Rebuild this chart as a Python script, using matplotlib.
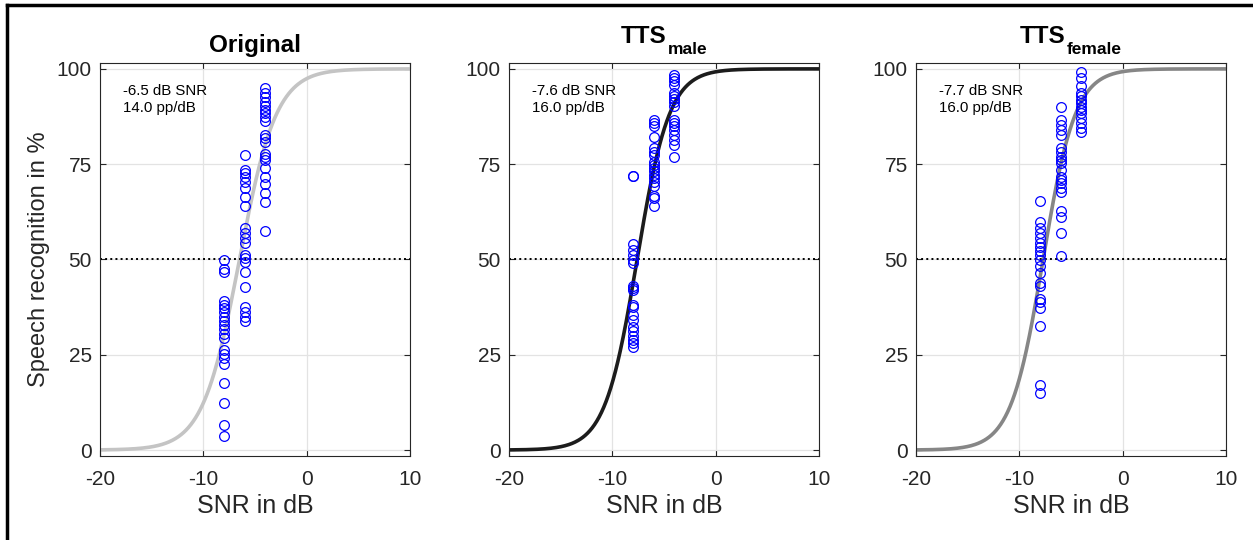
import numpy as np
import matplotlib
matplotlib.use("Agg")
import matplotlib.pyplot as plt
from matplotlib.lines import Line2D

plt.rcParams['font.family'] = ['Liberation Sans', 'DejaVu Sans']
plt.rcParams['axes.unicode_minus'] = False

# panel titles (main part, subscript) and fit parameters
title_main = ["Original", "TTS", "TTS"]
title_sub = ["", "male", "female"]
srt = [-6.5, -7.6, -7.7]          # dB SNR
slope = [14.0, 16.0, 16.0]        # pp/dB
curve_colors = ["#c4c4c4", "#1c1c1c", "#868686"]

# measured points per panel: SNR levels and recognition scores
orig_snr_m8 = [49.9, 47.4, 46.7, 39.2, 38.1, 37.2, 36.1, 35.0, 33.9, 32.8, 31.7,
               30.4, 29.3, 26.2, 25.2, 24.1, 22.7, 17.5, 12.4, 6.6, 3.8]
orig_snr_m6 = [77.3, 73.5, 72.6, 71.7, 70.4, 68.7, 66.5, 64.0, 58.2, 56.9, 55.6,
               54.2, 51.2, 50.3, 49.4, 46.6, 42.9, 37.6, 36.3, 35.0, 33.9]
orig_snr_m4 = [94.9, 93.6, 92.6, 91.4, 90.3, 89.2, 88.4, 87.3, 86.4, 82.7, 81.8,
               80.9, 77.7, 77.0, 76.1, 73.9, 71.7, 69.8, 67.5, 65.2, 57.6]

male_snr_m8 = [72.0, 71.8, 54.1, 52.5, 51.2, 49.9, 49.2, 43.0, 42.4, 42.0, 38.1,
               37.4, 35.4, 34.1, 32.4, 31.3, 29.9, 28.9, 28.0, 27.1]
male_snr_m6 = [86.6, 85.7, 84.9, 82.2, 79.2, 78.3, 77.4, 75.7, 74.8, 73.9, 73.1,
               72.2, 71.3, 70.4, 69.3, 66.7, 66.1, 63.9]
male_snr_m4 = [98.4, 97.5, 96.7, 95.8, 93.8, 92.9, 92.0, 91.2, 90.3, 86.6, 85.7,
               84.9, 84.0, 82.7, 81.4, 80.1, 76.8]

female_snr_m8 = [65.4, 59.8, 58.2, 56.9, 55.6, 54.4, 53.4, 52.3, 51.2, 49.9, 48.4,
                 46.4, 43.7, 43.0, 39.5, 38.9, 37.2, 32.6, 17.1, 15.0]
female_snr_m6 = [90.1, 86.6, 85.3, 84.0, 82.7, 79.2, 78.3, 77.0, 76.1, 75.2, 73.5,
                 71.7, 70.9, 70.0, 68.7, 67.8, 62.6, 61.2, 56.9, 50.9]
female_snr_m4 = [99.3, 97.5, 95.4, 93.6, 92.8, 91.9, 91.0, 90.1, 89.2, 88.4, 87.1,
                 85.7, 84.4, 83.5]

snr_levels = [-8, -6, -4]
panels = [
    [orig_snr_m8, orig_snr_m6, orig_snr_m4],
    [male_snr_m8, male_snr_m6, male_snr_m4],
    [female_snr_m8, female_snr_m6, female_snr_m4],
]

fig = plt.figure(figsize=(12.53, 5.4), dpi=100)

lefts = [100 / 1253, 509 / 1253, 916 / 1253]
x = np.linspace(-20, 10, 400)
title_parts = []

for i in range(3):
    ax = fig.add_axes([lefts[i], 0.156, 0.2474, 0.727])
    ax.grid(True, color="#e3e3e3", lw=0.9)
    ax.set_axisbelow(True)

    k = 4 * slope[i] / 100
    ax.plot(x, 100 / (1 + np.exp(-k * (x - srt[i]))), color=curve_colors[i], lw=2.6, zorder=2)
    ax.axhline(50, color="black", ls=":", lw=1.4, zorder=2)

    for snr, vals in zip(snr_levels, panels[i]):
        ax.plot([snr] * len(vals), vals, "o", mfc="none", mec="#0000ff",
                mew=0.9, ms=7, zorder=3)

    ax.text(-17.8, 96, f"{srt[i]:.1f} dB SNR\n{slope[i]:.1f} pp/dB",
            fontsize=10.8, va="top", ha="left", linespacing=1.25)

    ax.set_xlim(-20, 10)
    ax.set_ylim(-1.5, 101.5)
    ax.set_xticks([-20, -10, 0, 10])
    ax.set_yticks([0, 25, 50, 75, 100])
    ax.tick_params(direction="in", top=True, right=True, length=4,
                   labelsize=15, colors="#262626", width=0.8)
    ax.tick_params(axis="x", pad=10)
    ax.tick_params(axis="y", pad=6)
    for s in ax.spines.values():
        s.set_color("#262626")
        s.set_linewidth(0.8)
    ax.set_xlabel("SNR in dB", fontsize=18, color="#262626", labelpad=4)
    if i == 0:
        ax.set_ylabel("Speech recognition in %", fontsize=17, color="#262626", labelpad=5)

    if title_sub[i]:
        t1 = ax.text(0.5, 1.051, title_main[i], transform=ax.transAxes,
                     fontsize=17.5, fontweight="bold", ha="left", va="baseline")
        t2 = ax.text(0.5, 1.023, title_sub[i], transform=ax.transAxes,
                     fontsize=12.5, fontweight="bold", ha="left", va="baseline")
        title_parts.append((ax, t1, t2))
    else:
        ax.set_title(title_main[i], fontsize=17.5, fontweight="bold", pad=8.4)

# center the TTS titles (main part plus subscript) over their axes
fig.canvas.draw()
r = fig.canvas.get_renderer()
for ax, t1, t2 in title_parts:
    bb = ax.get_window_extent(r)
    w1 = t1.get_window_extent(r).width
    w2 = t2.get_window_extent(r).width
    gap = 1.5
    start = bb.x0 + bb.width / 2 - (w1 + gap + w2) / 2
    t1.set_x((start - bb.x0) / bb.width)
    t2.set_x((start + w1 + gap - bb.x0) / bb.width)

# frame lines at top and left of figure
fig.add_artist(Line2D([7 / 1253, 7 / 1253], [0, 1 - 5 / 540], color="black", lw=2.5,
                      transform=fig.transFigure))
fig.add_artist(Line2D([7 / 1253, 1], [1 - 5 / 540, 1 - 5 / 540], color="black", lw=2.5,
                      transform=fig.transFigure))

fig.savefig("out.png", dpi=100)
